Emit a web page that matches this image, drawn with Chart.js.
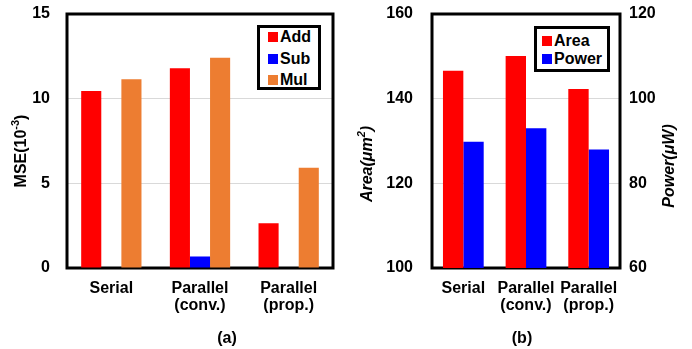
<!DOCTYPE html>
<html>
<head>
<meta charset="utf-8">
<script src="https://cdn.jsdelivr.net/npm/chart.js@4"></script>
<style>
  html, body { margin: 0; padding: 0; background: #fff; }
  #wrap { position: relative; width: 692px; height: 349px; font-family: "Liberation Sans", Arial, sans-serif; }
  canvas { position: absolute; top: 0; }
  .legend { position: absolute; border: 3px solid #000; background: #fff; box-sizing: border-box; }
  .item { position: absolute; font-weight: bold; font-size: 16px; line-height: 16px; white-space: nowrap; }
  .sw { position: absolute; width: 10px; height: 10px; }
  .cap { position: absolute; font-weight: bold; font-size: 16px; line-height: 16px; transform: translateX(-50%); }
</style>
</head>
<body>
<div id="wrap">
  <canvas id="chartA" width="346" height="349" style="left:0"></canvas>
  <canvas id="chartB" width="346" height="349" style="left:346px"></canvas>
  <div class="cap" style="left:227px; top:330px">(a)</div>
  <div class="cap" style="left:522px; top:330px">(b)</div>
</div>
<script>
const categories = ['Serial', ['Parallel', '(conv.)'], ['Parallel', '(prop.)']];

// panel (a): MSE x 10^-3
const mseAdd = [10.45, 11.8, 2.65];
const mseSub = [0, 0.68, 0];
const mseMul = [11.15, 12.42, 5.92];
const mseTicks = [0, 5, 10, 15];

// panel (b): area (um^2) and power (uW)
const area = [146.6, 150.1, 142.3];
const power = [89.8, 93.0, 88.0];
const areaTicks = [100, 120, 140, 160];
const powerTicks = [60, 80, 100, 120];

const RED = '#FF0000';
const BLUE = '#0000FF';
const ORANGE = '#ED7D31';
const FAMILY = '"Liberation Sans", Arial, sans-serif';

Chart.defaults.font.family = FAMILY;
Chart.defaults.color = '#000';

function gridColor(ctx) {
    const t = ctx.scale.ticks;
    if (ctx.index === 0 || ctx.index === t.length - 1) return 'rgba(0,0,0,0)';
    return '#D9D9D9';
}

// draw text parts rotated -90deg, centred on (x, y)
function rotatedText(ctx, x, y, parts) {
    ctx.save();
    ctx.translate(x, y);
    ctx.rotate(-Math.PI / 2);
    ctx.textBaseline = 'middle';
    ctx.textAlign = 'left';
    ctx.fillStyle = '#000';
    let total = 0;
    parts.forEach(p => { ctx.font = p.font; total += ctx.measureText(p.text).width; });
    let cx = -total / 2;
    parts.forEach(p => {
        ctx.font = p.font;
        ctx.fillText(p.text, cx, p.dy || 0);
        cx += ctx.measureText(p.text).width;
    });
    ctx.restore();
}

const framePlugin = {
    id: 'frame',
    beforeDatasetsDraw(chart) {
        const a = chart.chartArea;
        const ctx = chart.ctx;
        ctx.save();
        ctx.strokeStyle = '#000';
        ctx.lineWidth = 3;
        ctx.strokeRect(a.left, a.top, a.right - a.left, a.bottom - a.top);
        ctx.restore();
    },
    afterDraw(chart, args, opts) {
        (opts.titles || []).forEach(t => rotatedText(chart.ctx, t.x, t.y, t.parts));
    }
};

function yScale(min, max, ticks, width, pad, pos, grid) {
    return {
        position: pos,
        min: min,
        max: max,
        afterBuildTicks: s => { s.ticks = ticks.map(v => ({ value: v })); },
        afterFit: s => { s.width = width; s.paddingTop = 0; s.paddingBottom = 0; },
        ticks: { font: { size: 16, weight: 'bold' }, padding: pad, color: '#000' },
        grid: grid ? { color: gridColor, drawTicks: false, lineWidth: 1 } : { display: false, drawTicks: false },
        border: { display: false }
    };
}

const xScale = {
    afterFit: s => { s.height = 81; s.paddingLeft = 0; s.paddingRight = 0; },
    ticks: { font: { size: 16, weight: 'bold', lineHeight: 1.05 }, padding: 12, color: '#000', maxRotation: 0, autoSkip: false },
    grid: { display: false, drawTicks: false },
    border: { display: false }
};

const chartA = new Chart(document.getElementById('chartA'), {
    type: 'bar',
    data: {
        labels: categories,
        datasets: [
            { label: 'Add', data: mseAdd, backgroundColor: RED },
            { label: 'Sub', data: mseSub, backgroundColor: BLUE },
            { label: 'Mul', data: mseMul, backgroundColor: ORANGE }
        ]
    },
    options: {
        responsive: false,
        animation: false,
        layout: { padding: { top: 14, right: 13, left: 0, bottom: 0 } },
        datasets: { bar: { barPercentage: 1, categoryPercentage: 0.68 } },
        scales: { x: xScale, y: yScale(0, 15, mseTicks, 67, 17, 'left', true) },
        plugins: {
            legend: { display: false },
            tooltip: { enabled: false },
            frame: {
                titles: [{ x: 22, y: 151, parts: [
                    { text: 'MSE(10', font: 'bold 16px ' + FAMILY },
                    { text: '-3', font: 'bold 11px ' + FAMILY, dy: -6 },
                    { text: ')', font: 'bold 16px ' + FAMILY }
                ] }]
            }
        }
    },
    plugins: [framePlugin]
});

const chartB = new Chart(document.getElementById('chartB'), {
    type: 'bar',
    data: {
        labels: categories,
        datasets: [
            { label: 'Area', data: area, backgroundColor: RED, yAxisID: 'y' },
            { label: 'Power', data: power, backgroundColor: BLUE, yAxisID: 'y1' }
        ]
    },
    options: {
        responsive: false,
        animation: false,
        layout: { padding: { top: 14, right: 0, left: 0, bottom: 0 } },
        datasets: { bar: { barPercentage: 1, categoryPercentage: 0.65 } },
        scales: {
            x: xScale,
            y: yScale(100, 160, areaTicks, 86, 19, 'left', true),
            y1: yScale(60, 120, powerTicks, 72, 9, 'right', false)
        },
        plugins: {
            legend: { display: false },
            tooltip: { enabled: false },
            frame: {
                titles: [
                    { x: 22, y: 164, parts: [
                        { text: 'Area(\u03bcm', font: 'italic bold 16px ' + FAMILY },
                        { text: '2', font: 'italic bold 11px ' + FAMILY, dy: -6 },
                        { text: ')', font: 'italic bold 16px ' + FAMILY }
                    ] },
                    { x: 324, y: 166, parts: [
                        { text: 'Power(\u03bcW)', font: 'italic bold 16px ' + FAMILY }
                    ] }
                ]
            }
        }
    },
    plugins: [framePlugin]
});

// legends boxed inside the plot, built from the datasets
function makeLegend(chart, left, top, width, height, rowTops, swLeft) {
    const wrap = document.getElementById('wrap');
    const box = document.createElement('div');
    box.className = 'legend';
    box.style.left = left + 'px';
    box.style.top = top + 'px';
    box.style.width = width + 'px';
    box.style.height = height + 'px';
    wrap.appendChild(box);
    chart.data.datasets.forEach((ds, i) => {
        const sw = document.createElement('div');
        sw.className = 'sw';
        sw.style.background = ds.backgroundColor;
        sw.style.left = (swLeft - left - 3) + 'px';
        sw.style.top = (rowTops[i] - top - 3) + 'px';
        box.appendChild(sw);
        const it = document.createElement('div');
        it.className = 'item';
        it.textContent = ds.label;
        it.style.left = (swLeft - left + 9) + 'px';
        it.style.top = (rowTops[i] - top - 6) + 'px';
        box.appendChild(it);
    });
}

makeLegend(chartA, 257, 25, 64, 65, [32, 54, 75], 268);
makeLegend(chartB, 534, 26, 76, 46, [36, 54], 542);
</script>
</body>
</html>
